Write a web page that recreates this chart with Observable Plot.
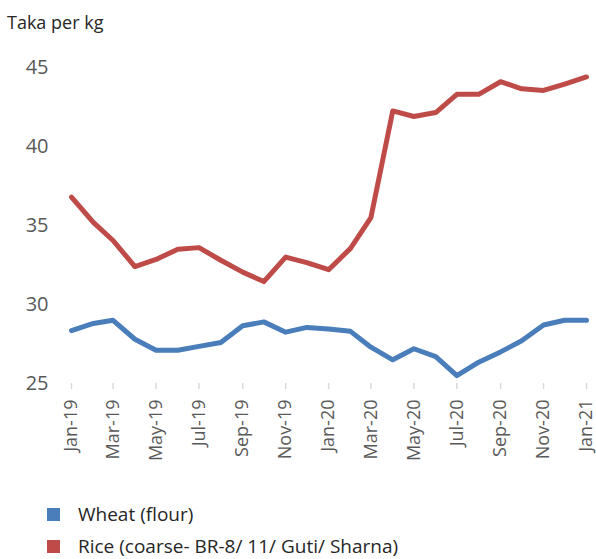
<!DOCTYPE html>
<html>
<head>
<meta charset="utf-8">
<script src="https://cdn.jsdelivr.net/npm/d3@7"></script>
<script src="https://cdn.jsdelivr.net/npm/@observablehq/plot@0.6"></script>
<style>
  html, body { margin: 0; padding: 0; background: #fff; }
  body { width: 596px; height: 559px; position: relative; overflow: hidden; font-family: "Open Sans", "Noto Sans", sans-serif; }
  #title { position: absolute; left: 7px; top: 11px; font-size: 18px; line-height: 22px; color: #262626; }
  #chart { position: absolute; left: 0; top: 40px; }
  .leg { position: absolute; left: 47px; font-size: 19px; line-height: 20px; color: #262626; white-space: nowrap; }
  .leg span.sw { display: inline-block; width: 13px; height: 13px; vertical-align: 0px; margin-right: 18px; }
</style>
</head>
<body>
<div id="title">Taka per kg</div>
<div id="chart"></div>
<div id="legend"></div>
<script>
const months = ["Jan-19","Feb-19","Mar-19","Apr-19","May-19","Jun-19","Jul-19","Aug-19","Sep-19","Oct-19","Nov-19","Dec-19",
                "Jan-20","Feb-20","Mar-20","Apr-20","May-20","Jun-20","Jul-20","Aug-20","Sep-20","Oct-20","Nov-20","Dec-20","Jan-21"];
const wheat = [28.35, 28.8, 29.0, 27.8, 27.1, 27.1, 27.35, 27.6, 28.65, 28.9, 28.25, 28.55,
               28.45, 28.3, 27.3, 26.5, 27.2, 26.7, 25.5, 26.35, 27.0, 27.7, 28.7, 29.0, 29.0];
const rice  = [36.8, 35.2, 34.05, 32.4, 32.85, 33.5, 33.6, 32.8, 32.05, 31.45, 33.0, 32.65,
               32.2, 33.55, 35.5, 42.25, 41.9, 42.15, 43.3, 43.3, 44.1, 43.65, 43.55, 43.95, 44.4];
const seriesNames = ["Wheat (flour)", "Rice (coarse- BR-8/ 11/ Guti/ Sharna)"];
const seriesColors = ["#4a7ebb", "#be4b48"];
const yTicks = [25, 30, 35, 40, 45];
const xTickLabels = ["Jan-19","Mar-19","May-19","Jul-19","Sep-19","Nov-19","Jan-20","Mar-20","May-20","Jul-20","Sep-20","Nov-20","Jan-21"];

const parse = d3.utcParse("%b-%y");
const fmt = d3.utcFormat("%b-%y");
const data = [];
months.forEach((m, i) => {
  data.push({date: parse(m), value: wheat[i], series: seriesNames[0]});
  data.push({date: parse(m), value: rice[i], series: seriesNames[1]});
});

const chart = Plot.plot({
  width: 596,
  height: 430,
  marginLeft: 71,
  marginRight: 10,
  marginTop: 27,
  marginBottom: 87,
  style: { fontFamily: "'Open Sans', 'Noto Sans', sans-serif", background: "white", overflow: "visible" },
  x: { type: "utc", domain: [parse(months[0]), parse(months[months.length - 1])] },
  y: { domain: [25, 45] },
  color: { domain: seriesNames, range: seriesColors },
  marks: [
    Plot.gridY(yTicks, { stroke: "#d9d9d9", strokeOpacity: 1, strokeWidth: 1.8, x1: 0, x2: 592 }),
    Plot.axisY(yTicks, { tickSize: 0, tickPadding: 23, fontSize: 20, fill: "#595959", label: null }),
    Plot.axisX(xTickLabels.map(parse), {
      tickFormat: fmt, tickRotate: -90, tickSize: 6, tickPadding: 10,
      stroke: "#d9d9d9", strokeWidth: 1.5, fill: "#595959", fontSize: 18, label: null
    }),
    Plot.lineY(data, { x: "date", y: "value", stroke: "series", strokeWidth: 5, strokeLinejoin: "round", strokeLinecap: "round" })
  ]
});
document.getElementById("chart").appendChild(chart);

const legend = document.getElementById("legend");
seriesNames.forEach((name, i) => {
  const d = document.createElement("div");
  d.className = "leg";
  d.style.top = (504 + i * 32) + "px";
  const sw = document.createElement("span");
  sw.className = "sw";
  sw.style.background = seriesColors[i];
  d.appendChild(sw);
  d.appendChild(document.createTextNode(name));
  legend.appendChild(d);
});
</script>
</body>
</html>
